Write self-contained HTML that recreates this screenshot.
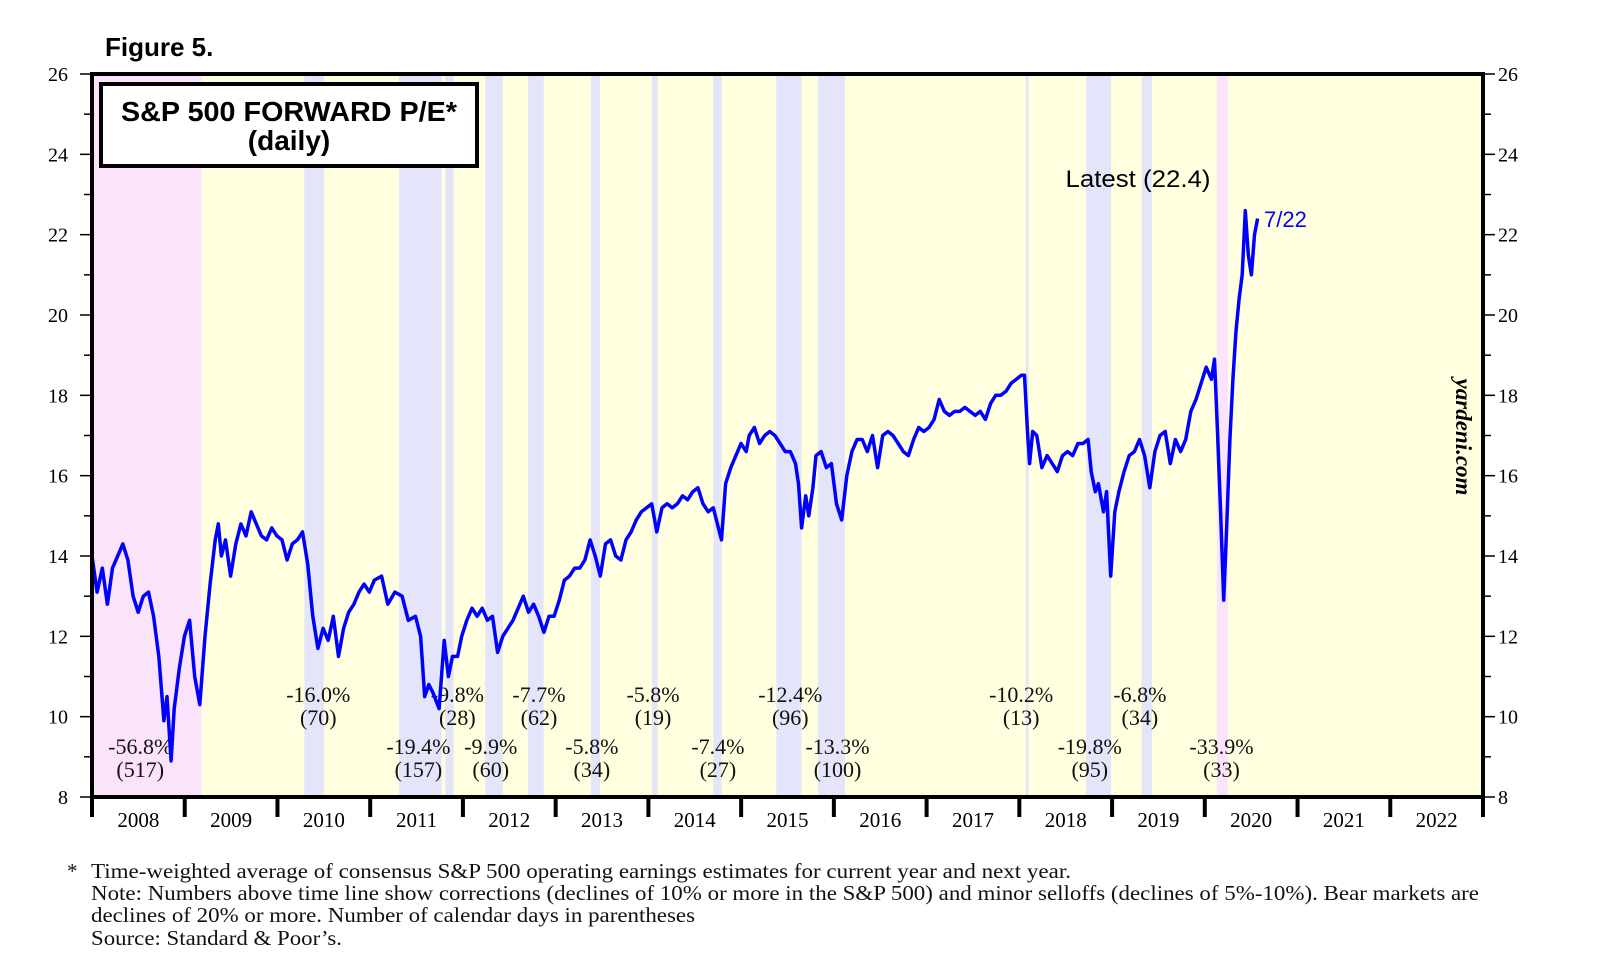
<!DOCTYPE html>
<html><head><meta charset="utf-8"><style>
html,body{margin:0;padding:0;background:#fff;}
body{width:1610px;height:977px;overflow:hidden;position:relative;font-family:"Liberation Serif",serif;}
svg{position:absolute;left:0;top:0;}
</style></head><body>
<svg id="chart" width="1610" height="977"></svg>
<script>
const bandKinds = ['pink','blue','blue','blue','blue','blue','blue','blue','blue','blue','blue','blue','blue','blue','pink'];
const bandStarts = [2008.00,2010.29,2011.31,2011.81,2012.24,2012.70,2013.38,2014.04,2014.70,2015.38,2015.83,2018.07,2018.72,2019.32,2020.13];
const bandEnds =   [2009.18,2010.50,2011.77,2011.90,2012.43,2012.87,2013.48,2014.10,2014.79,2015.65,2016.12,2018.10,2018.99,2019.43,2020.25];
const annPct = ['-56.8%','-16.0%','-19.4%','-9.8%','-9.9%','-7.7%','-5.8%','-5.8%','-7.4%','-12.4%','-13.3%','-10.2%','-19.8%','-6.8%','-33.9%'];
const annDays = ['(517)','(70)','(157)','(28)','(60)','(62)','(34)','(19)','(27)','(96)','(100)','(13)','(95)','(34)','(33)'];
const annYear = [2008.52,2010.44,2011.52,2011.94,2012.30,2012.82,2013.39,2014.05,2014.75,2015.53,2016.04,2018.02,2018.76,2019.30,2020.18];
const annRow = [1,0,1,0,1,0,1,0,1,0,1,0,1,0,1];
const yearLabels = ['2008','2009','2010','2011','2012','2013','2014','2015','2016','2017','2018','2019','2020','2021','2022'];
const yTicks = [8,10,12,14,16,18,20,22,24,26];
const px = [90,95,100,105,110,115,120,125,130,135,140,145,150,155,160,163,167,170,175,180,185,190,195,200,205,210,213,216,220,225,230,235,240,245,250,255,260,265,270,275,280,285,290,295,300,305,310,315,320,325,330,335,340,345,350,355,360,365,372,378,385,392,398,405,410,414,418,422,428,433,437,441,446,450,455,460,465,470,475,480,485,490,495,500,505,510,515,520,525,530,535,540,545,550,555,560,565,570,575,580,585,590,595,600,605,610,615,620,625,630,635,640,645,650,655,660,665,670,675,680,685,690,695,700,703,707,712,717,722,727,730,735,740,745,750,755,760,765,770,775,778,781,785,788,792,795,800,805,810,815,820,825,830,835,840,845,850,855,860,865,870,875,880,885,890,895,900,905,910,915,920,925,930,935,940,945,950,955,960,965,970,975,980,985,990,995,998,1001,1003,1006,1010,1015,1020,1025,1030,1035,1040,1045,1050,1055,1060,1063,1067,1070,1075,1078,1082,1086,1090,1095,1100,1105,1110,1115,1120,1125,1130,1135,1140,1145,1150,1155,1160,1165,1170,1175,1180,1183,1186,1189,1192,1195,1198,1201,1204,1207,1210,1213,1216,1219,1222,1225];
const peValues = [14.0,13.1,13.7,12.8,13.7,14.0,14.3,13.9,13.0,12.6,13.0,13.1,12.5,11.5,9.9,10.5,8.9,10.2,11.2,12.0,12.4,11.0,10.3,12.0,13.3,14.4,14.8,14.0,14.4,13.5,14.3,14.8,14.5,15.1,14.8,14.5,14.4,14.7,14.5,14.4,13.9,14.3,14.4,14.6,13.8,12.5,11.7,12.2,11.9,12.5,11.5,12.2,12.6,12.8,13.1,13.3,13.1,13.4,13.5,12.8,13.1,13.0,12.4,12.5,12.0,10.5,10.8,10.6,10.2,11.9,11.0,11.5,11.5,12.0,12.4,12.7,12.5,12.7,12.4,12.5,11.6,12.0,12.2,12.4,12.7,13.0,12.6,12.8,12.5,12.1,12.5,12.5,12.9,13.4,13.5,13.7,13.7,13.9,14.4,14.0,13.5,14.3,14.4,14.0,13.9,14.4,14.6,14.9,15.1,15.2,15.3,14.6,15.2,15.3,15.2,15.3,15.5,15.4,15.6,15.7,15.3,15.1,15.2,14.7,14.4,15.8,16.2,16.5,16.8,16.6,17.0,17.2,16.8,17.0,17.1,17.0,16.8,16.6,16.6,16.3,15.8,14.7,15.5,15.0,15.7,16.5,16.6,16.2,16.3,15.3,14.9,16.0,16.6,16.9,16.9,16.6,17.0,16.2,17.0,17.1,17.0,16.8,16.6,16.5,16.9,17.2,17.1,17.2,17.4,17.9,17.6,17.5,17.6,17.6,17.7,17.6,17.5,17.6,17.4,17.8,18.0,18.0,18.1,18.3,18.4,18.5,18.5,17.1,16.3,17.1,17.0,16.2,16.5,16.3,16.1,16.5,16.6,16.5,16.8,16.8,16.9,16.1,15.6,15.8,15.1,15.6,13.5,15.1,15.6,16.1,16.5,16.6,16.9,16.5,15.7,16.6,17.0,17.1,16.3,16.9,16.6,16.9,17.6,17.9,18.3,18.7,18.4,18.9,17.1,15.1,12.9,14.8,16.9,18.4,19.6,20.4,21.0,22.6,21.5,21.0,22.0,22.4];

const NS='http://www.w3.org/2000/svg';
const svg=document.getElementById('chart');
const L=92,R=1483,T=74,B=797,Y0=2008,YW=(R-L)/15;
const X=yr=>L+(yr-Y0)*YW;
const Y=v=>B-(v-8)*(B-T)/18;
function mk(tag,attrs,parent){const e=document.createElementNS(NS,tag);for(const k in attrs)e.setAttribute(k,attrs[k]);(parent||svg).appendChild(e);return e;}

let bg=mk('rect',{x:L,y:T,width:R-L,height:B-T,fill:'#ffffe0'});


bandStarts.forEach((s,i)=>{
  const r=mk('rect',{x:X(s),y:T,width:X(bandEnds[i])-X(s),height:B-T,fill:bandKinds[i]==='pink'?'#fbe3fb':'#e4e4fa'});
  
  
});

annPct.forEach((p,i)=>{
  const cx=X(annYear[i]);const y1=annRow[i]?754:702;
  const t=mk('text',{x:cx,y:y1,'text-anchor':'middle','font-size':22,'font-family':'Liberation Serif, serif',fill:'#111'});
  t.textContent=p;
  
  
  const t2=mk('text',{x:cx,y:y1+23,'text-anchor':'middle','font-size':22,'font-family':'Liberation Serif, serif',fill:'#111'});
  t2.textContent=annDays[i];
  
  
});

let d='';
px.forEach((p,i)=>{const yr=Y0+(p-90)/90.3;d+=(i?'L':'M')+X(yr).toFixed(1)+','+Y(peValues[i]).toFixed(1);});
const line=mk('path',{d:d,fill:'none',stroke:'#0000ff','stroke-width':3.5,'stroke-linejoin':'round'});



const border=mk('rect',{x:L,y:T,width:R-L,height:B-T,fill:'none',stroke:'#000','stroke-width':4});



for(let v=8;v<=26;v++){
  const major=v%2===0;
  mk('line',{x1:L-(major?12:8),x2:L,y1:Y(v),y2:Y(v),stroke:'#000','stroke-width':1.5});
  mk('line',{x1:R,x2:R+(major?12:8),y1:Y(v),y2:Y(v),stroke:'#000','stroke-width':1.5});
}
yTicks.forEach(v=>{
  const a=mk('text',{x:68,y:Y(v)+7,'text-anchor':'end','font-size':20,'font-family':'Liberation Serif, serif'});
  a.textContent=v;
  
  
  const b=mk('text',{x:1498,y:Y(v)+7,'text-anchor':'start','font-size':20,'font-family':'Liberation Serif, serif'});
  b.textContent=v;
  
  
});
for(let i=0;i<=15;i++){mk('line',{x1:X(Y0+i),x2:X(Y0+i),y1:B,y2:B+20,stroke:'#000','stroke-width':4});}
yearLabels.forEach((lab,i)=>{
  const t=mk('text',{x:X(Y0+i+0.5),y:827,'text-anchor':'middle','font-size':21,'font-family':'Liberation Serif, serif'});
  t.textContent=lab;
  
  
});
</script>

<svg width="1610" height="977" style="pointer-events:none">
  <text x="105" y="56" font-family="Liberation Sans, sans-serif" font-weight="bold" font-size="26">Figure 5.</text>
  <rect x="101" y="84" width="376" height="82" fill="#fff" stroke="#000" stroke-width="4"/>
  <text x="289" y="121" text-anchor="middle" font-family="Liberation Sans, sans-serif" font-weight="bold" font-size="28" textLength="336" lengthAdjust="spacingAndGlyphs">S&amp;P 500 FORWARD P/E*</text>
  <text x="289" y="150" text-anchor="middle" font-family="Liberation Sans, sans-serif" font-weight="bold" font-size="28">(daily)</text>
  <text x="1138" y="187" text-anchor="middle" font-family="Liberation Sans, sans-serif" font-size="24" textLength="145" lengthAdjust="spacingAndGlyphs">Latest (22.4)</text>
  <text x="1264" y="227" font-family="Liberation Sans, sans-serif" font-size="22" fill="#0000ff">7/22</text>
  <text transform="translate(1456,437) rotate(90)" text-anchor="middle" font-family="Liberation Serif, serif" font-style="italic" font-weight="bold" font-size="23">yardeni.com</text>
  <g font-family="Liberation Serif, serif" font-size="21" fill="#111">
    <text x="67" y="878">*</text>
    <text x="91" y="878" textLength="980" lengthAdjust="spacingAndGlyphs">Time-weighted average of consensus S&amp;P 500 operating earnings estimates for current year and next year.</text>
    <text x="91" y="900" textLength="1388" lengthAdjust="spacingAndGlyphs">Note: Numbers above time line show corrections (declines of 10% or more in the S&amp;P 500) and minor selloffs (declines of 5%-10%). Bear markets are</text>
    <text x="91" y="922" textLength="604" lengthAdjust="spacingAndGlyphs">declines of 20% or more. Number of calendar days in parentheses</text>
    <text x="91" y="945" textLength="251" lengthAdjust="spacingAndGlyphs">Source: Standard &amp; Poor’s.</text>
  </g>
</svg>
</body></html>
